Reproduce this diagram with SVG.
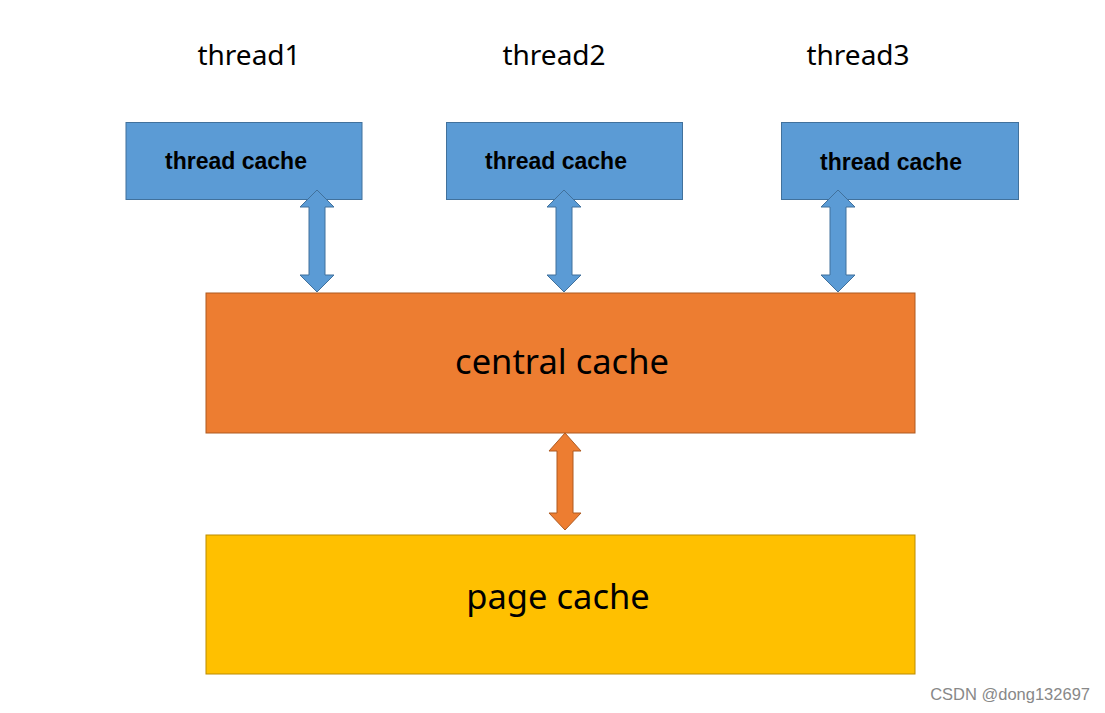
<svg xmlns="http://www.w3.org/2000/svg" width="1105" height="713" viewBox="0 0 1105 713">
<style>
.bg{fill:#ffffff}
.tc{fill:#5B9BD5;stroke:#41719C;stroke-width:1}
.cc{fill:#ED7D31;stroke:#AE5A21;stroke-width:1}
.pc{fill:#FFC000;stroke:#BC8C00;stroke-width:1}
.ab{fill:#5B9BD5;stroke:#41719C;stroke-width:1}
.ao{fill:#ED7D31;stroke:#AE5A21;stroke-width:1}
.th{font-family:"Noto Sans","Open Sans",sans-serif;font-size:28px;fill:#000}
.tct{font-family:"Liberation Sans",Arial,sans-serif;font-size:23px;font-weight:bold;fill:#000}
.big{font-family:"Noto Sans","Open Sans",sans-serif;font-size:34.5px;fill:#000}
.wm{font-family:"Liberation Sans",Arial,sans-serif;font-size:16.5px;fill:#888}
</style>
<rect class="bg" x="0" y="0" width="1105" height="713"/>
<g id="label-thread1"><text class="th" x="249" y="65" text-anchor="middle">thread1</text></g>
<g id="label-thread2"><text class="th" x="554" y="65" text-anchor="middle">thread2</text></g>
<g id="label-thread3"><text class="th" x="858" y="65" text-anchor="middle">thread3</text></g>
<g id="thread-cache-1"><rect class="tc" x="126" y="122.5" width="236" height="77"/><text class="tct" x="236" y="169" text-anchor="middle">thread cache</text></g>
<g id="thread-cache-2"><rect class="tc" x="446.5" y="122.5" width="236" height="77"/><text class="tct" x="556" y="169" text-anchor="middle">thread cache</text></g>
<g id="thread-cache-3"><rect class="tc" x="781.5" y="122.5" width="237" height="77"/><text class="tct" x="891" y="170" text-anchor="middle">thread cache</text></g>
<g id="central-cache"><rect class="cc" x="206" y="293" width="709" height="140"/><text class="big" x="562" y="374" text-anchor="middle">central cache</text></g>
<g id="page-cache"><rect class="pc" x="206" y="535" width="709" height="139"/><text class="big" x="558" y="609" text-anchor="middle">page cache</text></g>
<g id="connectors">
<path class="ab" d="M317,190 L334,207 L325,207 L325,275 L334,275 L317,292 L300,275 L309,275 L309,207 L300,207 Z"/>
<path class="ab" d="M564,190 L581,207 L572,207 L572,275 L581,275 L564,292 L547,275 L556,275 L556,207 L547,207 Z"/>
<path class="ab" d="M838,190 L855,207 L846,207 L846,275 L855,275 L838,292 L821,275 L830,275 L830,207 L821,207 Z"/>
<path class="ao" d="M565,433 L581,451 L573,451 L573,513 L581,513 L565,530 L549,513 L557,513 L557,451 L549,451 Z"/>
</g>
<g id="watermark"><text class="wm" x="1090" y="700" text-anchor="end">CSDN @dong132697</text></g>
</svg>
